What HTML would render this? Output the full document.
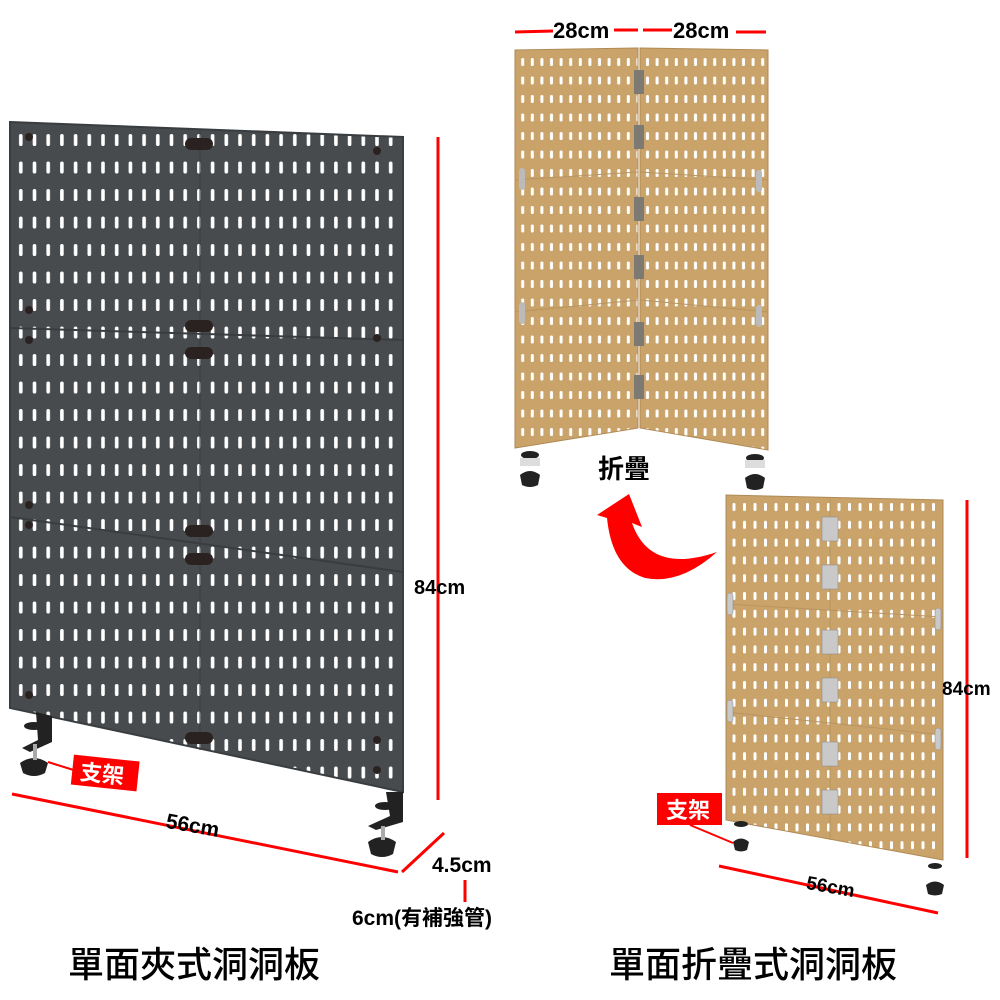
<!DOCTYPE html>
<html><head><meta charset="utf-8"><style>
html,body{margin:0;padding:0;background:#fff;}
svg{display:block}
text{font-family:"Liberation Sans","Noto Sans CJK TC",sans-serif;font-weight:bold;}
</style></head><body>
<svg width="1000" height="1000" viewBox="0 0 1000 1000" xmlns="http://www.w3.org/2000/svg">
<defs>
<pattern id="dk" x="14" y="130" width="13.7" height="27.5" patternUnits="userSpaceOnUse">
<rect width="13.7" height="27.5" fill="#474b4e"/>
<rect x="5" y="4" width="3.6" height="12" rx="1.8" fill="#fff"/>
</pattern>
<pattern id="wd" x="518" y="55" width="9.6" height="18.5" patternUnits="userSpaceOnUse">
<rect width="9.6" height="18.5" fill="#c9a36a"/>
<rect x="3.2" y="3" width="3" height="8" rx="1.4" fill="#fff"/>
</pattern>
<pattern id="wd2" x="729" y="500" width="10.5" height="17.8" patternUnits="userSpaceOnUse">
<rect width="10.5" height="17.8" fill="#c9a36a"/>
<rect x="3.5" y="3" width="3" height="8" rx="1.4" fill="#fff"/>
</pattern>
</defs>

<polygon points="10,122 403,137 403,792 10,708" fill="url(#dk)" stroke="#3a3d40" stroke-width="2"/>
<line x1="10" y1="328" x2="403" y2="340" stroke="#3a3d40" stroke-width="2"/>
<line x1="10" y1="517" x2="403" y2="572" stroke="#3a3d40" stroke-width="2"/>
<line x1="200" y1="130" x2="200" y2="750" stroke="#3a3d40" stroke-width="1"/>
<g fill="#2a2220">
<rect x="185" y="138" width="28" height="12" rx="6"/><rect x="185" y="320" width="28" height="12" rx="6"/>
<rect x="185" y="347" width="28" height="12" rx="6"/><rect x="185" y="525" width="28" height="12" rx="6"/>
<rect x="185" y="553" width="28" height="12" rx="6"/><rect x="185" y="732" width="28" height="12" rx="6"/>
<circle cx="29" cy="137" r="4"/><circle cx="377" cy="151" r="4"/><circle cx="29" cy="310" r="4"/><circle cx="377" cy="338" r="4"/>
<circle cx="29" cy="340" r="4"/><circle cx="29" cy="505" r="4"/><circle cx="29" cy="525" r="4"/><circle cx="29" cy="695" r="4"/>
<circle cx="377" cy="740" r="4"/><circle cx="377" cy="770" r="4"/>
</g>
<g fill="#222">
<path d="M36,712 L52,716 L52,742 L30,752 L22,748 L38,740Z"/>
<ellipse cx="34" cy="726" rx="10" ry="4"/>
<path d="M20,763 q14,-10 28,0 l-3,10 q-11,6 -22,0Z"/>
<path d="M386,792 L403,792 L403,822 L376,830 L368,826 L390,816Z"/>
<ellipse cx="385" cy="806" rx="10" ry="4"/>
<path d="M368,842 q14,-10 28,0 l-3,12 q-11,6 -22,0Z"/>
</g>
<rect x="33" y="744" width="4" height="16" fill="#aaa"/>
<rect x="381" y="826" width="4" height="14" fill="#aaa"/>

<line x1="438" y1="137" x2="438" y2="800" stroke="#f00" stroke-width="3"/>
<text x="414" y="594" font-size="20" fill="#000">84cm</text>
<line x1="12" y1="794" x2="398" y2="872" stroke="#f00" stroke-width="3"/>
<text x="165" y="832" font-size="21" fill="#000" transform="rotate(10 190 830)">56cm</text>
<line x1="402" y1="872" x2="444" y2="833" stroke="#f00" stroke-width="3"/>
<text x="432" y="872" font-size="21" fill="#000">4.5cm</text>
<line x1="465" y1="880" x2="465" y2="902" stroke="#f00" stroke-width="3"/>
<text x="352" y="925" font-size="21" fill="#000">6cm(有補強管)</text>
<line x1="48" y1="762" x2="80" y2="772" stroke="#f00" stroke-width="2"/>
<g transform="rotate(6 105 775)"><rect x="72" y="758" width="66" height="30" fill="#f00"/>
<text x="80" y="782" font-size="22" fill="#fff">支架</text></g>
<text x="68" y="977" font-size="36" fill="#000" style="font-weight:500">單面夾式洞洞板</text>

<polygon points="515,50 638,48 638,428 515,448" fill="url(#wd)" stroke="#b08a55"/>
<polygon points="640,48 768,50 768,450 640,428" fill="url(#wd)" stroke="#b08a55"/>
<line x1="515" y1="180" x2="638" y2="172" stroke="#b89460"/>
<line x1="515" y1="312" x2="638" y2="300" stroke="#b89460"/>
<line x1="640" y1="172" x2="768" y2="180" stroke="#b89460"/>
<line x1="640" y1="300" x2="768" y2="312" stroke="#b89460"/>
<g fill="#7d7a74">
<rect x="634" y="70" width="10" height="24"/><rect x="634" y="125" width="10" height="24"/><rect x="634" y="197" width="10" height="24"/>
<rect x="634" y="255" width="10" height="24"/><rect x="634" y="322" width="10" height="24"/><rect x="634" y="375" width="10" height="24"/>
</g>
<g fill="#bbb"><rect x="519" y="168" width="6" height="22" rx="3"/><rect x="519" y="302" width="6" height="22" rx="3"/>
<rect x="756" y="170" width="6" height="22" rx="3"/><rect x="756" y="305" width="6" height="22" rx="3"/></g>
<g fill="#222"><ellipse cx="530" cy="455" rx="9" ry="4"/><path d="M520,475 q10,-8 20,0 l-2,10 q-8,4 -16,0Z"/>
<ellipse cx="755" cy="458" rx="9" ry="4"/><path d="M745,478 q10,-8 20,0 l-2,10 q-8,4 -16,0Z"/></g>
<rect x="520" y="458" width="20" height="8" fill="#ddd"/><rect x="745" y="460" width="20" height="8" fill="#ddd"/>
<line x1="515" y1="32" x2="553" y2="31" stroke="#f00" stroke-width="3"/>
<line x1="614" y1="30" x2="638" y2="30" stroke="#f00" stroke-width="3"/>
<line x1="643" y1="30" x2="672" y2="30" stroke="#f00" stroke-width="3"/>
<line x1="736" y1="32" x2="766" y2="32" stroke="#f00" stroke-width="3"/>
<text x="553" y="38" font-size="22" fill="#000">28cm</text>
<text x="673" y="38" font-size="22" fill="#000">28cm</text>
<text x="598" y="478" font-size="26" fill="#000">折疊</text>

<path d="M629,494 L642,527 L632,523 Q650,575 717,552 Q680,585 645,578 Q612,568 607,518 L597,515Z" fill="#f00"/>

<polygon points="726,495 943,500 943,860 726,820" fill="url(#wd2)" stroke="#b08a55"/>
<line x1="726" y1="604" x2="943" y2="617" stroke="#b89460"/>
<line x1="726" y1="712" x2="943" y2="735" stroke="#b89460"/>
<line x1="830" y1="497" x2="830" y2="840" stroke="#b89460"/>
<g fill="#c9c9c9" stroke="#888" stroke-width="0.5">
<rect x="822" y="517" width="16" height="24"/><rect x="822" y="565" width="16" height="24"/><rect x="822" y="630" width="16" height="24"/>
<rect x="822" y="678" width="16" height="24"/><rect x="822" y="742" width="16" height="24"/><rect x="822" y="790" width="16" height="24"/>
<rect x="727" y="593" width="6" height="22" rx="3"/><rect x="727" y="700" width="6" height="22" rx="3"/>
<rect x="935" y="608" width="6" height="22" rx="3"/><rect x="935" y="728" width="6" height="22" rx="3"/>
</g>
<g fill="#222"><ellipse cx="741" cy="824" rx="7" ry="3"/><path d="M733,842 q8,-7 16,0 l-2,8 q-6,3 -12,0Z"/>
<ellipse cx="935" cy="866" rx="7" ry="3"/><path d="M926,885 q9,-7 18,0 l-2,9 q-7,3 -14,0Z"/></g>
<line x1="967" y1="500" x2="967" y2="858" stroke="#f00" stroke-width="3"/>
<text x="942" y="695" font-size="19" fill="#000">84cm</text>
<line x1="719" y1="866" x2="938" y2="913" stroke="#f00" stroke-width="3"/>
<text x="806" y="893" font-size="19" fill="#000" transform="rotate(10 830 888)">56cm</text>
<rect x="657" y="793" width="65" height="32" fill="#f00"/>
<text x="666" y="818" font-size="22" fill="#fff">支架</text>
<line x1="690" y1="825" x2="733" y2="843" stroke="#f00" stroke-width="2"/>
<text x="609" y="977" font-size="36" fill="#000" style="font-weight:500">單面折疊式洞洞板</text>
</svg>
</body></html>
